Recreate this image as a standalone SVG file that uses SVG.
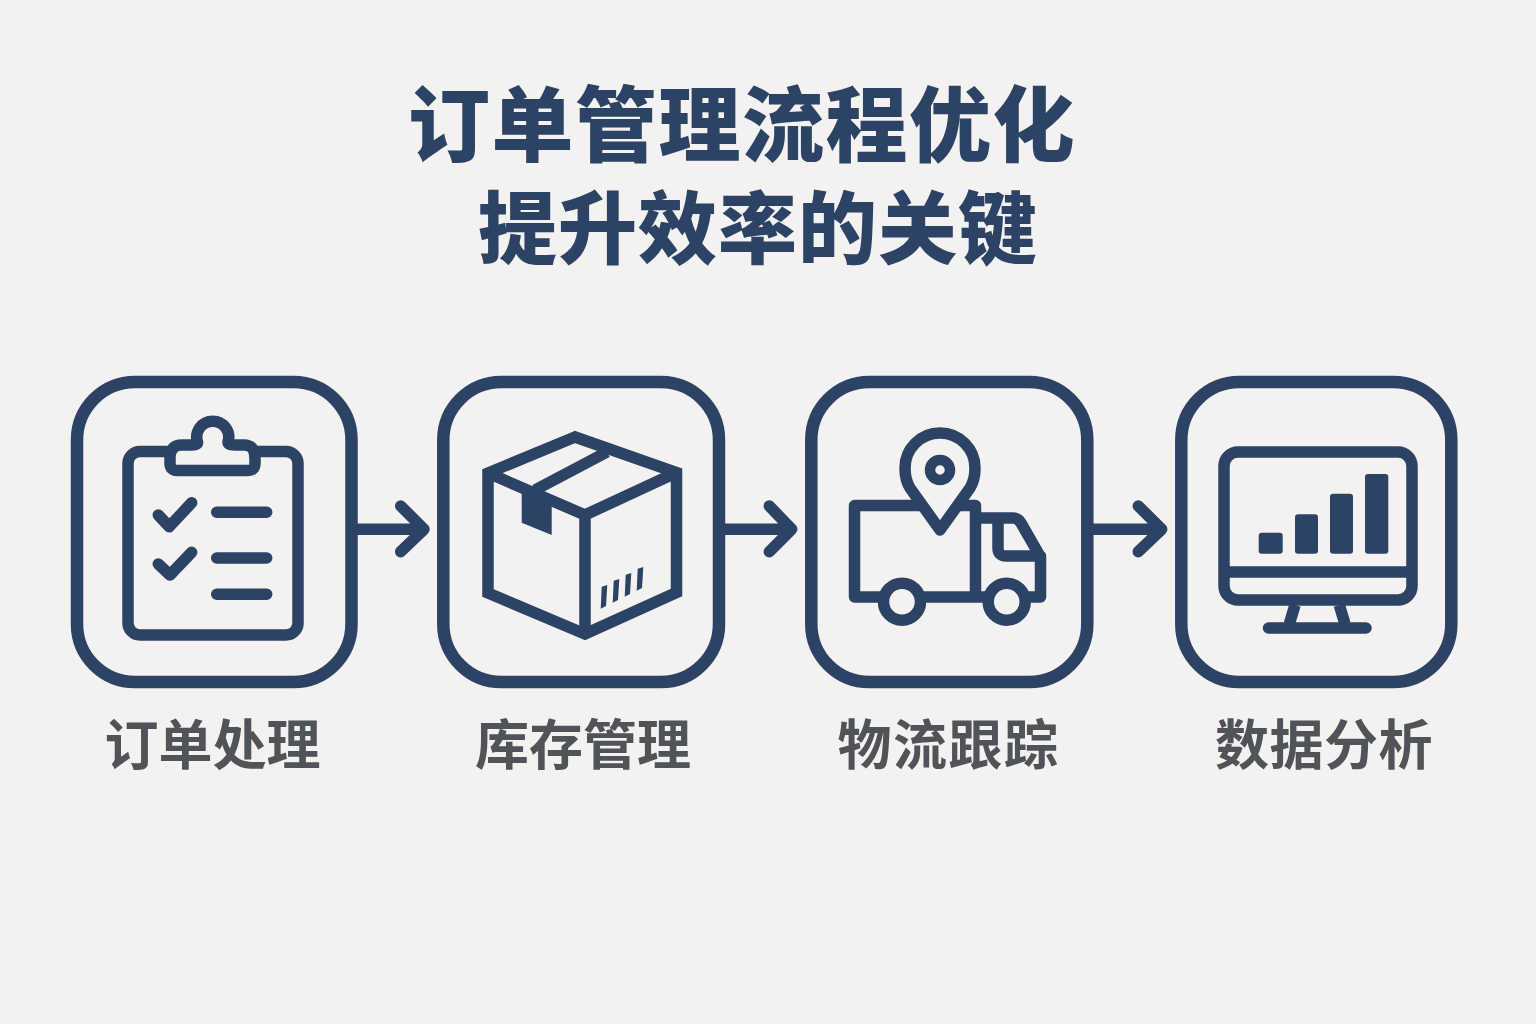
<svg xmlns="http://www.w3.org/2000/svg" width="1536" height="1024" viewBox="0 0 1536 1024">
<style>
.s{fill:none;stroke:#2c4365;stroke-width:11.500;stroke-linecap:round;stroke-linejoin:round}
.b{fill:#f3f2f0;stroke:#2c4365;stroke-width:11.500;stroke-linecap:round;stroke-linejoin:round}
.box{fill:none;stroke:#2c4365;stroke-width:12.500}
.f{fill:#2c4365}
.t{font-family:"Noto Sans CJK SC","Liberation Sans",sans-serif;font-weight:900;fill:#2c4365;text-anchor:middle}
.l{font-family:"Noto Sans CJK SC","Liberation Sans",sans-serif;font-weight:700;fill:#505357;font-size:54px;text-anchor:middle}
</style>
<rect width="1536" height="1024" fill="#f3f2f0"/>
<g id="title">
<text class="t"><tspan x="742" y="155" font-size="82" letter-spacing="1.500">订单管理流程优化</tspan><tspan x="758" y="258" font-size="79" letter-spacing="1">提升效率的关键</tspan></text>
</g>
<g id="connectors">
<path class="s" d="M357 529.300H424M400.700 506L424 529.300L400.700 551.700"/>
<path class="s" d="M725 529.300H791.700M769.300 506L791.700 529.300L769.300 551.700"/>
<path class="s" d="M1093 529.300H1161.700M1138.300 506L1161.700 529.300L1138.300 551.700"/>
</g>
<g id="node-order">
<rect class="box" x="77" y="382" width="274.500" height="300" rx="58"/>
<rect class="s" x="128" y="451.500" width="170" height="183.500" rx="12"/>
<path class="b" d="M170 458Q170 445 182 445H191Q198 445 197.500 442A16 16 0 1 1 228 442Q228 445 235 445H244Q255 445 255 458V463Q255 470.500 248 470.500H177Q170 470.500 170 463Z"/>
<path class="s" d="M158.300 515L169.300 526.700L191.700 502.700M158.300 564L170 575L191.700 552.300M216.700 512.300H266.700M216.700 558H266.700M216.700 594.300H266.700"/>
<text class="l" x="212.500" y="765">订单处理</text>
</g>
<g id="node-inventory">
<rect class="box" x="443.300" y="382" width="275.700" height="300" rx="58"/>
<path class="s" style="stroke-linejoin:miter" d="M575 437L488 473V593L585 634L676.500 592.500V472.500ZM488 473L585 515L676.500 472.500M585 515V634"/>
<path class="s" style="stroke-linecap:butt" d="M607 452L535 490"/>
<path class="f" d="M521.700 490V522.700L551.700 535V505L535 488Z"/>
<path class="f" d="M601.700 586.700L607.300 585L606 606L600.700 608.700ZM613.700 580.700L619.300 579L618 600L612.700 602.700ZM625.700 574.700L631.300 573L630 594L624.700 596.700ZM637.700 568.700L643.300 567L642 588L636.700 590.700Z"/>
<text class="l" x="583" y="765">库存管理</text>
</g>
<g id="node-logistics">
<rect class="box" x="811.300" y="382" width="276" height="300" rx="58"/>
<path class="s" d="M975.500 518H1013Q1018 518 1021 523L1040.500 557V597H854.500V505.500H975.500V597M998 518V548Q998 556 1006 556H1040.500"/>
<path class="b" d="M940 530L910 488Q905 480 905 468A35 35 0 0 1 975 468Q975 480 970 488Z"/>
<circle class="s" style="stroke-width:10.500" cx="940" cy="470" r="10"/>
<circle class="b" cx="902" cy="601.700" r="18.500"/>
<circle class="b" cx="1006.700" cy="601.700" r="18.500"/>
<text class="l" x="948.500" y="765" letter-spacing="1.500">物流跟踪</text>
</g>
<g id="node-analytics">
<rect class="box" x="1181.300" y="382" width="270" height="300" rx="58"/>
<rect class="s" x="1224" y="452" width="188" height="148" rx="14"/>
<path class="s" style="stroke-linecap:butt" d="M1224 572H1412M1295 605L1289.300 624M1339.300 605L1345 624"/>
<path class="s" d="M1268.500 628H1366"/>
<rect class="f" x="1258.700" y="532.700" width="24" height="21" rx="3"/>
<rect class="f" x="1295" y="514.300" width="23" height="39.400" rx="3"/>
<rect class="f" x="1330" y="493.700" width="23" height="60" rx="3"/>
<rect class="f" x="1365" y="474" width="23.300" height="79.700" rx="3"/>
<text class="l" x="1324" y="765" letter-spacing="0.500">数据分析</text>
</g>
</svg>
